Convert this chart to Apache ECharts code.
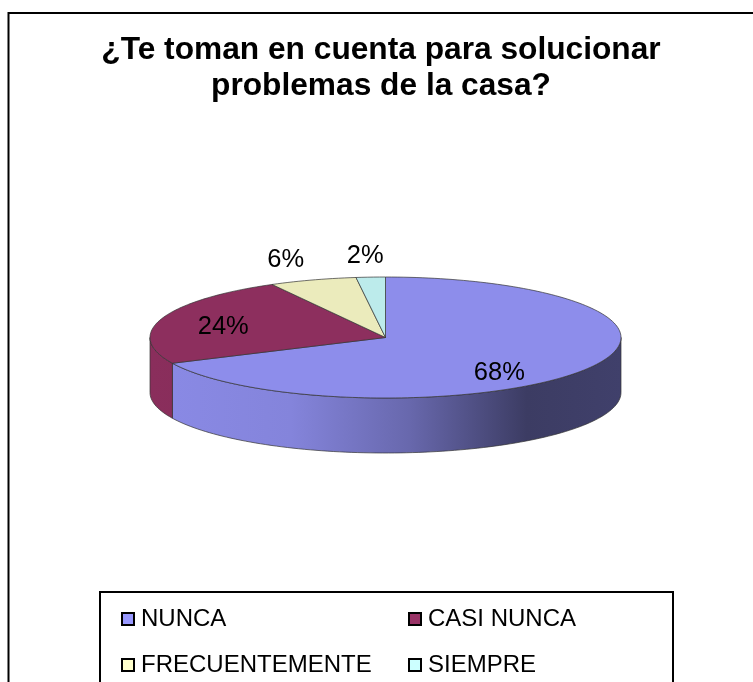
<!DOCTYPE html>
<html>
<head>
<meta charset="utf-8">
<script src="https://cdn.jsdelivr.net/npm/echarts@6/dist/echarts.min.js"></script>
<style>
html,body{margin:0;padding:0;background:#fff;}
#chart{width:753px;height:682px;}
</style>
</head>
<body>
<div id="chart"></div>
<script>
// ---- data ----
const categories = ['NUNCA', 'CASI NUNCA', 'FRECUENTEMENTE', 'SIEMPRE'];
const values = [68, 24, 6, 2];
const percentLabels = ['68%', '24%', '6%', '2%'];
const baseColors = ['#9999FF', '#993366', '#FFFFCC', '#CCFFFF'];
const titleText = '¿Te toman en cuenta para solucionar\nproblemas de la casa?';

// ---- layout (not data) ----
const PIE = { cx: 385.5, cy: 337.5, rx: 235.5, ry: 60.5, depth: 55 };
const FONT = '"Liberation Sans", Arial, sans-serif';

const total = values.reduce((a, b) => a + b, 0);
const starts = [];
{ let acc = 0; values.forEach(v => { starts.push(acc / total); acc += v; }); }

function shade(hex, f) {
  const n = parseInt(hex.slice(1), 16);
  const r = Math.round(((n >> 16) & 255) * f), g = Math.round(((n >> 8) & 255) * f), b = Math.round((n & 255) * f);
  return 'rgb(' + r + ',' + g + ',' + b + ')';
}
function pt(theta, dy) {
  const t = theta * Math.PI / 180;
  return [PIE.cx + PIE.rx * Math.cos(t), PIE.cy - PIE.ry * Math.sin(t) + (dy || 0)];
}
function arc(a, b, dy) { // from angle a to b (degrees)
  const n = Math.max(2, Math.ceil(Math.abs(b - a) / 1.5));
  const out = [];
  for (let i = 0; i <= n; i++) out.push(pt(a + (b - a) * i / n, dy));
  return out;
}

function renderSlice(idx) {
  return function (params, api) {
    const v = api.value(0);
    const s = starts[idx];
    const e = s + v / total;
    const t1 = 90 - 360 * s;   // start angle (clockwise => decreasing)
    const t2 = 90 - 360 * e;
    const base = baseColors[idx];
    const children = [];
    // side faces (front half: sin < 0)
    for (let k = -2; k <= 1; k++) {
      const lo = Math.max(t2, -180 + 360 * k);
      const hi = Math.min(t1, 360 * k);
      if (hi > lo) {
        const top = arc(hi, lo, 0);
        const bot = arc(lo, hi, PIE.depth);
        children.push({
          type: 'polygon', z2: 1,
          shape: { points: top.concat(bot) },
          style: {
            fill: new echarts.graphic.LinearGradient(PIE.cx - PIE.rx, 0, PIE.cx + PIE.rx, 0, [
              { offset: 0, color: shade(base, 0.9) },
              { offset: 0.3, color: shade(base, 0.86) },
              { offset: 0.55, color: shade(base, 0.68) },
              { offset: 0.8, color: shade(base, 0.39) },
              { offset: 1, color: shade(base, 0.42) }
            ], true),
            stroke: '#333', lineWidth: 0.7
          }
        });
      }
    }
    // top face
    const topPts = [[PIE.cx, PIE.cy]].concat(arc(t1, t2, 0));
    children.push({
      type: 'polygon', z2: 10,
      shape: { points: topPts },
      style: { fill: shade(base, 0.92), stroke: '#333', lineWidth: 0.7 }
    });
    // label
    const mid = (t1 + t2) / 2 * Math.PI / 180;
    const frac = v / total;
    let lx, ly;
    if (frac >= 0.1) {
      lx = PIE.cx + PIE.rx * 0.653 * Math.cos(mid) - 16;
      ly = PIE.cy - PIE.ry * 0.91 * Math.sin(mid) + 6;
    } else {
      lx = PIE.cx + PIE.rx * 1.37 * Math.cos(mid);
      ly = PIE.cy - PIE.ry * 1.37 * Math.sin(mid) + 1;
    }
    children.push({
      type: 'text', z2: 20,
      style: {
        text: percentLabels[idx], x: lx, y: ly,
        font: '25.5px ' + FONT, fill: '#000',
        align: 'center', verticalAlign: 'middle',
        textAlign: 'center', textVerticalAlign: 'middle'
      }
    });
    return { type: 'group', children: children };
  };
}

const series = categories.map((name, i) => ({
  type: 'custom',
  name: name,
  coordinateSystem: 'none',
  itemStyle: { color: baseColors[i] },
  renderItem: renderSlice(i),
  data: [[values[i]]],
  animation: false
}));

const legends = categories.map((name, i) => ({
  data: [name],
  left: 121 + (i % 2) * 287,
  top: 607 + Math.floor(i / 2) * 46,
  padding: 0,
  itemWidth: 12, itemHeight: 12, itemGap: 0,
  icon: 'rect',
  itemStyle: { borderColor: '#000', borderWidth: 2 },
  textStyle: { fontFamily: FONT, fontSize: 24, color: '#000', padding: [0, 0, 0, 2] },
  selectedMode: false
}));

const chart = echarts.init(document.getElementById('chart'), null, { renderer: 'canvas' });
chart.setOption({
  backgroundColor: '#fff',
  animation: false,
  title: {
    text: titleText,
    left: 381, top: 33, textAlign: 'center',
    padding: 0,
    textStyle: { fontFamily: FONT, fontSize: 31.7, fontWeight: 'bold', color: '#000', lineHeight: 35.5 }
  },
  legend: legends,
  graphic: [
    { type: 'rect', z: -1, shape: { x: 8.5, y: 13, width: 900, height: 900 }, style: { fill: 'none', stroke: '#000', lineWidth: 2 } },
    { type: 'rect', z: -1, shape: { x: 100, y: 592, width: 573, height: 300 }, style: { fill: 'none', stroke: '#000', lineWidth: 2 } }
  ],
  series: series
});
</script>
</body>
</html>
